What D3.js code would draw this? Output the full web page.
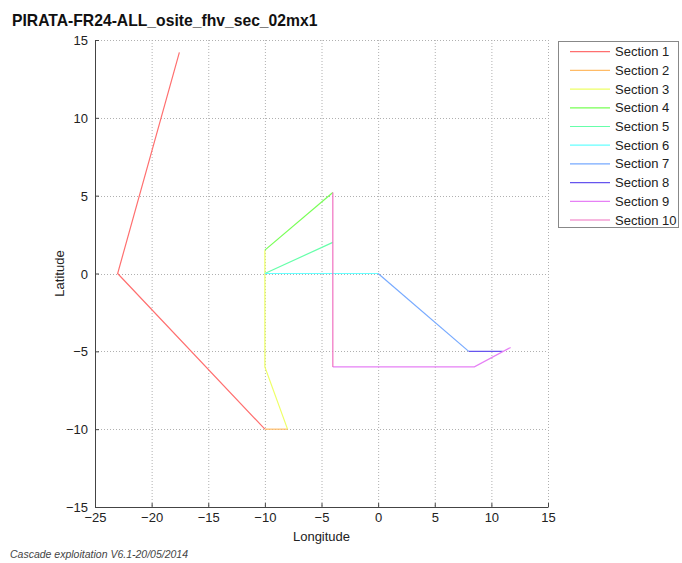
<!DOCTYPE html>
<html><head><meta charset="utf-8">
<script src="https://cdn.jsdelivr.net/npm/d3@7"></script>
<style>body{margin:0;background:#fff;} text{font-family:"Liberation Sans",Arial,sans-serif;}</style>
</head><body>
<script>
const title = "PIRATA-FR24-ALL_osite_fhv_sec_02mx1";
const footer = "Cascade exploitation V6.1-20/05/2014";
const sectionNames = ["Section 1","Section 2","Section 3","Section 4","Section 5","Section 6","Section 7","Section 8","Section 9","Section 10"];
const sectionColors = ["#ff6f6f","#ffbb66","#eeff66","#77ff55","#66ffaa","#66ffff","#77aaff","#6655ee","#e680f5","#f070c0"];
// each section: list of [lon, lat]
const sec1 = [[-17.55,14.2],[-23,0],[-10,-10]];
const sec2 = [[-10,-10],[-8,-10]];
const sec3 = [[-8,-10],[-10,-6],[-10,1.5]];
const sec4 = [[-10,1.5],[-4,5.2]];
const sec5 = [[-4,2],[-10,0]];
const sec6 = [[-10,0],[0,0]];
const sec7 = [[0,0],[8,-5]];
const sec8 = [[8,-5],[11,-5]];
const sec9 = [[11.7,-4.75],[8.5,-6],[-4,-6]];
const sec10 = [[-4,-6],[-4,5.2]];
const sections = [sec1,sec2,sec3,sec4,sec5,sec6,sec7,sec8,sec9,sec10];
const xTicks = [-25,-20,-15,-10,-5,0,5,10,15];
const yTicks = [-15,-10,-5,0,5,10,15];

const W=682,H=563;
const m={left:95,right:548,top:40,bottom:507};
const svg=d3.select("body").append("svg").attr("width",W).attr("height",H);
const x=d3.scaleLinear().domain([-25,15]).range([m.left,m.right]);
const y=d3.scaleLinear().domain([-15,15]).range([m.bottom,m.top]);

// grid
const g=svg.append("g");
g.selectAll(".gx").data(xTicks).join("line")
 .attr("x1",d=>x(d)+0.5).attr("x2",d=>x(d)+0.5).attr("y1",m.top).attr("y2",m.bottom)
 .attr("stroke","#b0b0b0").attr("stroke-dasharray","1,2").attr("stroke-width",1);
g.selectAll(".gy").data(yTicks).join("line")
 .attr("y1",d=>Math.round(y(d))+0.5).attr("y2",d=>Math.round(y(d))+0.5).attr("x1",m.left).attr("x2",m.right)
 .attr("stroke","#b0b0b0").attr("stroke-dasharray","1,2").attr("stroke-width",1);

// axes
const xAxis=d3.axisBottom(x).tickValues(xTicks).tickSizeInner(-4).tickSizeOuter(0).tickPadding(7);
const yAxis=d3.axisLeft(y).tickValues(yTicks).tickSizeInner(-4).tickSizeOuter(0).tickPadding(7);
const gx=svg.append("g").attr("transform",`translate(0,${m.bottom})`).call(xAxis);
const gy=svg.append("g").attr("transform",`translate(${m.left},0)`).call(yAxis);
[gx,gy].forEach(a=>{
  a.select(".domain").attr("stroke","#444");
  a.selectAll(".tick line").attr("stroke","#444");
  a.selectAll(".tick text").attr("font-size",13).attr("fill","#222").attr("font-family","Liberation Sans, Arial, sans-serif");
});
gx.selectAll(".tick text").attr("dy","0.6em");
gy.selectAll(".tick text").attr("dy","0.35em");

// lines
const line=d3.line().x(d=>x(d[0])).y(d=>y(d[1]));
svg.append("g").selectAll("path").data(sections).join("path")
 .attr("d",line).attr("fill","none").attr("stroke",(d,i)=>sectionColors[i]).attr("stroke-width",1.2);

// labels
svg.append("text").attr("x",12).attr("y",26).attr("font-size",15.7).attr("font-weight","bold").attr("fill","#111").text(title);
svg.append("text").attr("x",(m.left+m.right)/2).attr("y",541).attr("text-anchor","middle").attr("font-size",13).attr("fill","#222").text("Longitude");
svg.append("text").attr("transform",`translate(64,${(m.top+m.bottom)/2}) rotate(-90)`).attr("text-anchor","middle").attr("font-size",13).attr("fill","#222").text("Latitude");
svg.append("text").attr("x",10).attr("y",558).attr("font-size",10.5).attr("font-style","italic").attr("fill","#444").text(footer);

// legend
const lg=svg.append("g");
lg.append("rect").attr("x",558.5).attr("y",41.5).attr("width",120).attr("height",186).attr("fill","#fff").attr("stroke","#888");
const rows=lg.selectAll(".row").data(sectionNames).join("g").attr("transform",(d,i)=>`translate(0,${51.7+i*18.7})`);
rows.append("line").attr("x1",570).attr("x2",610).attr("y1",0).attr("y2",0).attr("stroke",(d,i)=>sectionColors[i]).attr("stroke-width",1.2);
rows.append("text").attr("x",615).attr("y",0).attr("dy","0.35em").attr("font-size",13).attr("fill","#222").text(d=>d);
</script>
</body></html>
